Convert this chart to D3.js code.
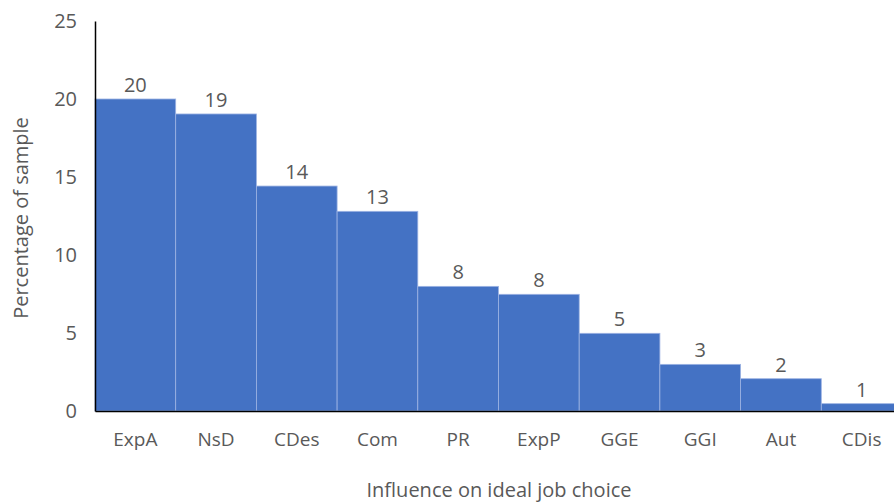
<!DOCTYPE html>
<html>
<head>
<meta charset="utf-8">
<script src="https://cdn.jsdelivr.net/npm/d3@7"></script>
<style>
  body { margin: 0; background: #fff; }
  text { font-family: "Open Sans", "Liberation Sans", sans-serif; fill: #595959; }
</style>
</head>
<body>
<script>
'use strict';

// categories and bar values
const categories = ["ExpA", "NsD", "CDes", "Com", "PR", "ExpP", "GGE", "GGI", "Aut", "CDis"];
const values = [20, 19.04, 14.42, 12.8, 7.99, 7.48, 4.98, 2.99, 2.07, 0.47];
const valueLabels = ["20", "19", "14", "13", "8", "8", "5", "3", "2", "1"];
const yTicks = [0, 5, 10, 15, 20, 25];

const width = 894, height = 502;

const svg = d3.select('body')
  .append('svg')
  .attr('width', width)
  .attr('height', height);

// scales
const xScale = d3.scaleBand()
  .domain(categories)
  .range([95, 902])
  .padding(0);

const yScale = d3.scaleLinear()
  .domain([0, 25])
  .range([411, 21]);

// bars
svg.selectAll('.bar')
  .data(categories)
  .enter()
  .append('rect')
    .attr('class', 'bar')
    .attr('x', (d) => xScale(d))
    .attr('y', (d, i) => yScale(values[i]))
    .attr('width', xScale.bandwidth())
    .attr('height', (d, i) => yScale(0) - yScale(values[i]))
    .style('fill', '#4472C4')
    .style('stroke', '#9db3e3')
    .style('stroke-width', 0.8);

// value labels
svg.selectAll('.val')
  .data(categories)
  .enter()
  .append('text')
    .attr('class', 'val')
    .attr('x', (d) => xScale(d) + xScale.bandwidth() / 2)
    .attr('y', (d, i) => yScale(values[i]) - 7)
    .attr('text-anchor', 'middle')
    .style('font-size', '20px')
    .text((d, i) => valueLabels[i]);

// y axis
const yAxis = d3.axisLeft(yScale)
  .tickValues(yTicks)
  .tickSize(0)
  .tickPadding(18);
const gy = svg.append('g')
  .attr('transform', 'translate(95,0)')
  .call(yAxis);
gy.select('.domain').attr('stroke', '#000').attr('stroke-width', 1.5);
gy.selectAll('text').style('font-size', '20px').style('fill', '#595959');

// x axis
const xAxis = d3.axisBottom(xScale)
  .tickSize(0)
  .tickPadding(22);
const gx = svg.append('g')
  .attr('transform', 'translate(0,411)')
  .call(xAxis);
gx.select('.domain').attr('stroke', '#000').attr('stroke-width', 1.5);
gx.selectAll('text').style('font-size', '19px').style('fill', '#595959');

// axis titles
svg.append('text')
  .attr('x', 499)
  .attr('y', 497)
  .attr('text-anchor', 'middle')
  .style('font-size', '20px')
  .text('Influence on ideal job choice');

svg.append('text')
  .attr('transform', 'translate(28,218)rotate(-90)')
  .attr('text-anchor', 'middle')
  .style('font-size', '20px')
  .text('Percentage of sample');
</script>
</body>
</html>
